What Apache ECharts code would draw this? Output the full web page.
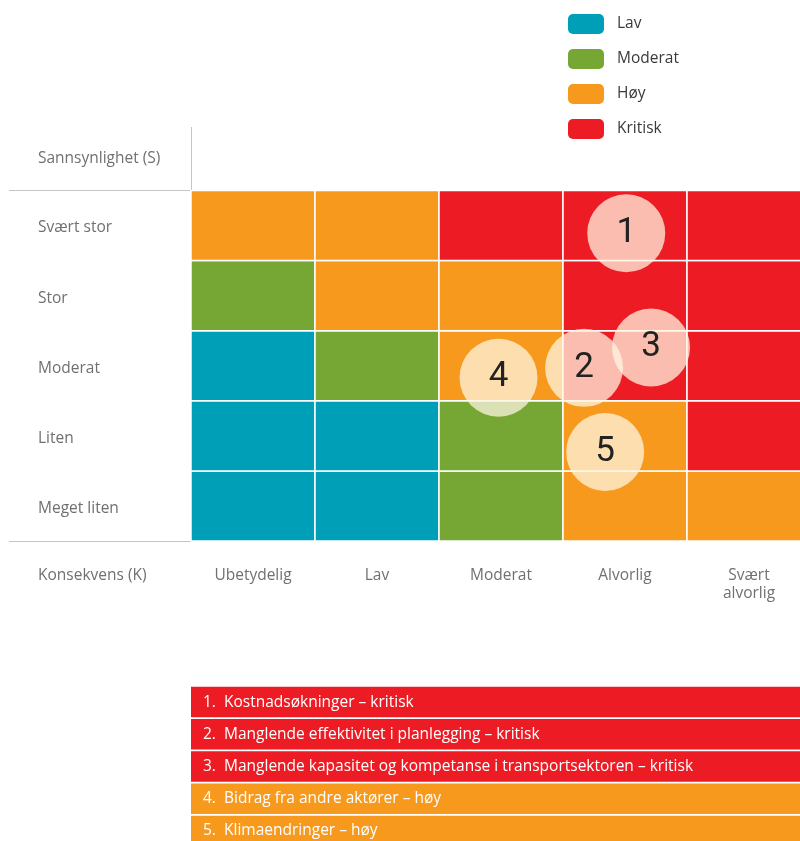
<!DOCTYPE html>
<html><head><meta charset="utf-8">
<script src="https://cdn.jsdelivr.net/npm/echarts@6/dist/echarts.min.js"></script>
<style>html,body{margin:0;padding:0;background:#fff}#c{width:800px;height:841px}</style>
</head><body><div id="c"></div>
<script>
const consequenceCats = ['Ubetydelig', 'Lav', 'Moderat', 'Alvorlig', 'Svært\nalvorlig'];
const probabilityCats = ['Meget liten', 'Liten', 'Moderat', 'Stor', 'Svært stor'];
const levelNames = ['Lav', 'Moderat', 'Høy', 'Kritisk'];
const levelColors = ['#009fb8', '#76a734', '#f7991d', '#ed1c24'];
// risk level per cell, rows bottom (Meget liten) to top (Svært stor), columns Ubetydelig..Svært alvorlig
const rowMegetLiten = [0, 0, 1, 2, 2];
const rowLiten      = [0, 0, 1, 2, 3];
const rowModerat    = [0, 1, 2, 3, 3];
const rowStor       = [1, 2, 2, 3, 3];
const rowSvaertStor = [2, 2, 3, 3, 3];
const matrixRows = [rowMegetLiten, rowLiten, rowModerat, rowStor, rowSvaertStor];

const riskIds = ['1', '2', '3', '4', '5'];
const riskK = [3.51, 3.17, 3.71, 2.48, 3.34];
const riskS = [4.39, 2.47, 2.76, 2.33, 1.27];
const riskNames = ['Kostnadsøkninger – kritisk', 'Manglende effektivitet i planlegging – kritisk', 'Manglende kapasitet og kompetanse i transportsektoren – kritisk', 'Bidrag fra andre aktører – høy', 'Klimaendringer – høy'];
const riskLevel = [3, 3, 3, 2, 2];

const FONT = '"Open Sans"';
const FS = 15.5;
const GRAY = '#707070';

const cellSeries = levelNames.map((name, li) => {
  const data = [];
  matrixRows.forEach((row, yi) => row.forEach((lv, xi) => { if (lv === li) data.push([xi, yi]); }));
  return {
    type: 'custom', name: name, xAxisIndex: 0, yAxisIndex: 0,
    itemStyle: { color: levelColors[li] },
    encode: { x: 0, y: 1 },
    data: data,
    renderItem: function (params, api) {
      const c = api.coord([api.value(0), api.value(1)]);
      const s = api.size([1, 1]);
      return { type: 'rect', shape: { x: c[0] - s[0] / 2, y: c[1] - s[1] / 2, width: s[0], height: s[1] },
        style: { fill: api.visual('color'), stroke: '#ffffff', lineWidth: 1.5 } };
    }
  };
});

const chart = echarts.init(document.getElementById('c'), null, { renderer: 'canvas' });
chart.setOption({
  animation: false,
  backgroundColor: '#ffffff',
  textStyle: { fontFamily: FONT },
  legend: {
    data: levelNames, orient: 'vertical', left: 568, top: 14, padding: 0,
    itemWidth: 36, itemHeight: 20, itemGap: 15, icon: 'roundRect',
    textStyle: { fontFamily: FONT, fontSize: FS, color: '#3a3a3a', padding: [0, 0, 0, 8] },
    selectedMode: false
  },
  grid: [
    { left: 191, top: 190.5, width: 620, height: 350.5, outerBoundsMode: 'none' },
    { left: 191, top: 686, width: 620, height: 161, outerBoundsMode: 'none' }
  ],
  xAxis: [
    { type: 'category', gridIndex: 0, data: consequenceCats, position: 'bottom',
      axisLine: { show: false }, axisTick: { show: false }, splitLine: { show: false },
      axisLabel: { margin: 26, fontSize: FS, lineHeight: 18, color: GRAY, fontFamily: FONT, verticalAlign: 'top' } },
    { type: 'value', gridIndex: 0, min: 0, max: 5, show: false },
    { type: 'value', gridIndex: 1, min: 0, max: 1, show: false }
  ],
  yAxis: [
    { type: 'category', gridIndex: 0, data: probabilityCats,
      axisLine: { show: false }, axisTick: { show: false }, splitLine: { show: false },
      axisLabel: { margin: 153, align: 'left', color: GRAY, fontFamily: FONT, fontSize: FS,
        formatter: v => '{a|' + v + '}',
        rich: { a: { fontSize: FS, color: GRAY, fontFamily: FONT, padding: [5, 0, 0, 0] } } } },
    { type: 'value', gridIndex: 0, min: 0, max: 5, show: false },
    { type: 'category', gridIndex: 1, data: riskIds, inverse: true, show: false }
  ],
  graphic: [
    { type: 'text', left: 38, top: 151, style: { text: 'Sannsynlighet (S)', fontSize: FS, fill: GRAY, fontFamily: FONT } },
    { type: 'text', left: 38, top: 568, style: { text: 'Konsekvens (K)', fontSize: FS, fill: GRAY, fontFamily: FONT } },
    { type: 'line', shape: { x1: 191.5, y1: 127, x2: 191.5, y2: 190 }, style: { stroke: '#c4c4c4', lineWidth: 1 } },
    { type: 'line', shape: { x1: 9, y1: 190.5, x2: 191, y2: 190.5 }, style: { stroke: '#c4c4c4', lineWidth: 1 } },
    { type: 'line', shape: { x1: 9, y1: 541.5, x2: 191, y2: 541.5 }, style: { stroke: '#c4c4c4', lineWidth: 1 } }
  ],
  series: cellSeries.concat([
    {
      type: 'scatter', xAxisIndex: 1, yAxisIndex: 1, z: 5,
      symbolSize: 78,
      itemStyle: { color: 'rgba(255,245,225,0.74)', opacity: 1 },
      label: { show: true, position: 'inside', formatter: p => riskIds[p.dataIndex],
        fontSize: 35, color: '#222', fontFamily: 'Roboto' },
      data: riskK.map((k, i) => [k, riskS[i]])
    },
    {
      type: 'bar', xAxisIndex: 2, yAxisIndex: 2, barWidth: 30.5,
      data: riskIds.map((id, i) => ({ value: 1, itemStyle: { color: levelColors[riskLevel[i]] } })),
      label: { show: true, position: 'insideLeft', distance: 12,
        formatter: p => '{n|' + riskIds[p.dataIndex] + '.}{t|' + riskNames[p.dataIndex] + '}',
        rich: { n: { width: 21, fontSize: FS, color: '#fff', fontFamily: FONT }, t: { fontSize: FS, color: '#fff', fontFamily: FONT } } }
    }
  ])
});
</script></body></html>
